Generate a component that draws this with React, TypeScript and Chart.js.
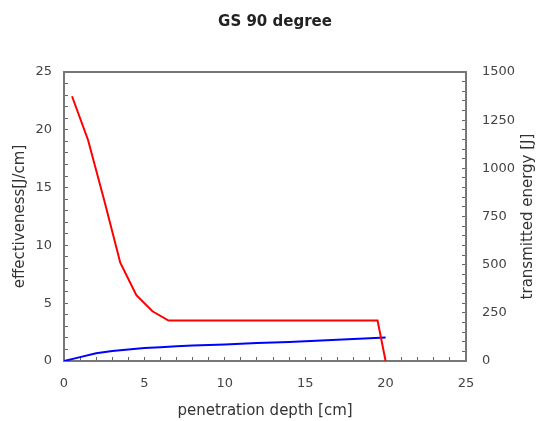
import React, { useEffect, useRef } from "react";
import { Chart, registerables } from "chart.js";

Chart.register(...registerables);

const chartTitle = "GS 90 degree";
const xAxisTitle = "penetration depth [cm]";
const leftAxisTitle = "effectiveness[J/cm]";
const rightAxisTitle = "transmitted energy [J]";

const redDepth = [0.5, 1.5, 2.5, 3.5, 4.5, 5.5, 6.5, 7.5, 8.5, 9.5, 10.5, 11.5, 12.5, 13.5, 14.5, 15.5, 16.5, 17.5, 18.5, 19.5, 20];
const effectiveness = [22.9, 19.1, 13.9, 8.5, 5.7, 4.3, 3.5, 3.5, 3.5, 3.5, 3.5, 3.5, 3.5, 3.5, 3.5, 3.5, 3.5, 3.5, 3.5, 3.5, 0];

const blueDepth = [0, 1, 2, 3, 4, 5, 6, 7, 8, 9, 10, 11, 12, 13, 14, 15, 16, 17, 18, 19, 20];
const transmittedEnergy = [0, 20, 40, 52, 60, 67, 72, 76, 80, 83, 86, 89, 93, 96, 99, 102, 106, 110, 114, 118, 122];

const FONT = "'DejaVu Sans', sans-serif";

const framePlugin = {
  id: "frame",
  afterDraw(chart: any) {
    const { ctx, chartArea } = chart;
    ctx.save();
    ctx.strokeStyle = "#777";
    ctx.lineWidth = 2;
    ctx.beginPath();
    ctx.moveTo(chartArea.left - 1, chartArea.top);
    ctx.lineTo(chartArea.right + 1, chartArea.top);
    ctx.stroke();
    ctx.fillStyle = "#333";
    ctx.font = `15px ${FONT}`;
    ctx.textAlign = "center";
    ctx.textBaseline = "middle";
    ctx.translate(528, (chartArea.top + chartArea.bottom) / 2);
    ctx.rotate(-Math.PI / 2);
    ctx.fillText(rightAxisTitle, 0, 0);
    ctx.restore();
  },
};

export default function App() {
  const ref = useRef<HTMLCanvasElement>(null);
  useEffect(() => {
    if (!ref.current) return;
    const tickFont = { family: FONT, size: 13 };
    const titleFont = { family: FONT, size: 15 };
    const chart = new Chart(ref.current, {
      type: "line",
      data: {
        datasets: [
          {
            label: "effectiveness",
            data: redDepth.map((x, i) => ({ x, y: effectiveness[i] })),
            borderColor: "#ff0000",
            borderWidth: 2,
            pointRadius: 0,
            tension: 0,
            yAxisID: "y",
          },
          {
            label: "transmitted energy",
            data: blueDepth.map((x, i) => ({ x, y: transmittedEnergy[i] })),
            borderColor: "#0000ff",
            borderWidth: 2,
            pointRadius: 0,
            tension: 0,
            yAxisID: "y2",
          },
        ],
      },
      options: {
        animation: false,
        responsive: true,
        maintainAspectRatio: false,
        layout: { padding: { left: 11, right: 0, top: 0, bottom: 0 } },
        plugins: {
          legend: { display: false },
          tooltip: { enabled: false },
          title: {
            display: true,
            text: chartTitle,
            color: "#222",
            font: { family: FONT, size: 15, weight: "bold" },
            padding: { top: 13, bottom: 41 },
          },
        },
        scales: {
          x: {
            type: "linear",
            min: 0,
            max: 25,
            afterFit: (s: any) => { s.height = 60; },
            ticks: {
              stepSize: 1,
              autoSkip: false,
              maxRotation: 0,
              color: "#444",
              font: tickFont,
              padding: 19,
              callback: (v: any) => (v % 5 === 0 ? String(v) : ""),
            },
            grid: { drawOnChartArea: false, tickLength: -4, tickColor: "#666", tickWidth: 1 },
            border: { color: "#777", width: 2 },
            title: { display: true, text: xAxisTitle, color: "#333", font: titleFont, padding: { top: 0, bottom: 1 } },
          },
          y: {
            position: "left",
            min: 0,
            max: 25,
            afterFit: (s: any) => { s.width = 53; },
            ticks: {
              stepSize: 1,
              autoSkip: false,
              color: "#444",
              font: tickFont,
              padding: 16,
              callback: (v: any) => (v % 5 === 0 ? String(v) : ""),
            },
            grid: { drawOnChartArea: false, tickLength: -4, tickColor: "#666", tickWidth: 1 },
            border: { color: "#777", width: 2 },
            title: { display: true, text: leftAxisTitle, color: "#333", font: titleFont, padding: { top: 0, bottom: 0 } },
          },
          y2: {
            position: "right",
            min: 0,
            max: 1500,
            afterFit: (s: any) => { s.width = 73; },
            ticks: {
              stepSize: 50,
              autoSkip: false,
              color: "#444",
              font: tickFont,
              padding: 20,
              callback: (v: any) => (v % 250 === 0 ? String(v) : ""),
            },
            grid: { drawOnChartArea: false, tickLength: -4, tickColor: "#666", tickWidth: 1 },
            border: { color: "#777", width: 2 },
          },
        },
      } as any,
      plugins: [framePlugin],
    });
    return () => chart.destroy();
  }, []);
  return (
    <div style={{ position: "absolute", left: 0, top: 0, width: 539, height: 421, background: "#fff" }}>
      <canvas ref={ref} />
    </div>
  );
}
